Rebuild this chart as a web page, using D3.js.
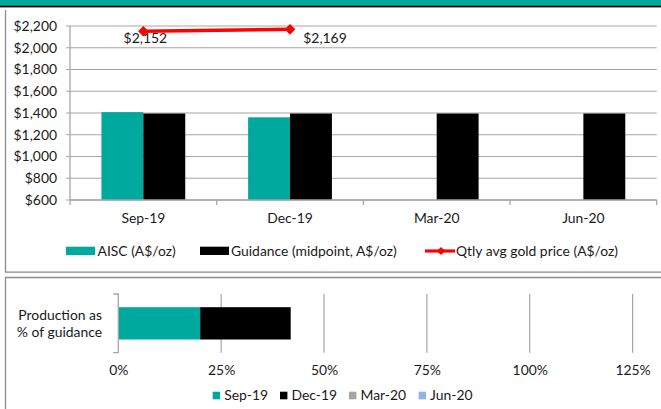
<!DOCTYPE html>
<html>
<head>
<meta charset="utf-8">
<script src="https://cdn.jsdelivr.net/npm/d3@7"></script>
<style>
  html, body { margin: 0; padding: 0; background: #fff; }
  svg { display: block; font-family: Lato, "Open Sans", sans-serif; }
  text { fill: #1a1a1a; }
</style>
</head>
<body>
<div id="chart"></div>
<script>
const W = 661;
const H = 409;
const FS = 13.9;

// Quarterly categories
const QUARTERS = ["Sep-19", "Dec-19", "Mar-20", "Jun-20"];

// Top chart: cost per ounce (A$/oz)
const AISC = [1408, 1360, null, null];
const GUIDANCE = [1395, 1395, 1395, 1395];
const GOLD_PRICE = [2152, 2169, null, null];
const Y_TICKS = [600, 800, 1000, 1200, 1400, 1600, 1800, 2000, 2200];

// Bottom chart: production as share of guidance, stacked by quarter
const PRODUCTION_SHARE = [0.199, 0.22, 0, 0];
const PCT_TICKS = [0, 0.25, 0.5, 0.75, 1, 1.25];

const TEAL = "#00a99d";
const QUARTER_COLORS = [TEAL, "#000000", "#a5a5a5", "#8eb4e3"];
const GRID = "#a6a6a6";
const BORDER = "#8c8c8c";

// manual nudges for the two price labels (as placed in the original)
const PRICE_LABEL_DX = [2, 35];

const svg = d3.select("#chart").append("svg")
  .attr("width", W)
  .attr("height", H)
  .attr("viewBox", `0 0 ${W} ${H}`);

// header band
svg.append("rect").attr("x", 0).attr("y", 0).attr("width", W).attr("height", 6).attr("fill", TEAL);
svg.append("rect").attr("x", 0).attr("y", 5.7).attr("width", W).attr("height", 1.7).attr("fill", "#000");

// panel frames (right edge is cropped in the original)
svg.append("path")
  .attr("d", `M5.5,10 V272.2 H${W}`)
  .attr("fill", "none").attr("stroke", BORDER).attr("stroke-width", 1.3);
svg.append("path")
  .attr("d", `M${W},277.5 H5.5 V${H}`)
  .attr("fill", "none").attr("stroke", BORDER).attr("stroke-width", 1.3);

// ---------- top chart ----------
const topBox = { left: 70, right: 656.7, top: 26, bottom: 200 };

const x = d3.scaleBand().domain(QUARTERS).range([topBox.left, topBox.right]);
const xInner = d3.scaleBand().domain(["aisc", "guidance"])
  .range([0, x.bandwidth()]).paddingOuter(0.75).paddingInner(0);
const y = d3.scaleLinear().domain([600, 2200]).range([topBox.bottom, topBox.top]);

const gTop = svg.append("g");

// gridlines
gTop.selectAll("line.grid")
  .data(Y_TICKS)
  .join("line")
  .attr("class", "grid")
  .attr("x1", topBox.left - 4).attr("x2", topBox.right)
  .attr("y1", (d) => y(d)).attr("y2", (d) => y(d))
  .attr("stroke", GRID).attr("stroke-width", 1.2);

// y labels
gTop.append("g")
  .attr("transform", `translate(${topBox.left},0)`)
  .call(d3.axisLeft(y).tickValues(Y_TICKS).tickSize(0).tickPadding(13)
    .tickFormat((d) => "$" + d3.format(",")(d)))
  .call((g) => g.select(".domain").remove())
  .call((g) => g.selectAll("text").attr("font-size", FS).attr("font-family", "Lato").attr("fill", "#1a1a1a"));

// bars
const barRows = QUARTERS.map((q, i) => [
  { q, key: "aisc", v: AISC[i], color: TEAL },
  { q, key: "guidance", v: GUIDANCE[i], color: "#000" },
]).flat().filter((d) => d.v != null);

gTop.selectAll("rect.bar")
  .data(barRows)
  .join("rect")
  .attr("class", "bar")
  .attr("x", (d) => x(d.q) + xInner(d.key))
  .attr("width", xInner.bandwidth())
  .attr("y", (d) => y(d.v))
  .attr("height", (d) => y(600) - y(d.v))
  .attr("fill", (d) => d.color);

// x axis line + boundary ticks
const bounds = QUARTERS.map((q) => x(q)).concat([topBox.right]);
gTop.append("line")
  .attr("x1", topBox.left).attr("x2", topBox.right)
  .attr("y1", topBox.bottom).attr("y2", topBox.bottom)
  .attr("stroke", GRID).attr("stroke-width", 1.3);
gTop.append("line")
  .attr("x1", topBox.left).attr("x2", topBox.left)
  .attr("y1", topBox.top).attr("y2", topBox.bottom)
  .attr("stroke", GRID).attr("stroke-width", 1.3);
gTop.selectAll("line.xtick")
  .data(bounds)
  .join("line")
  .attr("class", "xtick")
  .attr("x1", (d) => d).attr("x2", (d) => d)
  .attr("y1", topBox.bottom).attr("y2", topBox.bottom + 5)
  .attr("stroke", GRID).attr("stroke-width", 1.3);

gTop.append("g")
  .attr("transform", `translate(0,${topBox.bottom})`)
  .call(d3.axisBottom(x).tickSize(0).tickPadding(13))
  .call((g) => g.select(".domain").remove())
  .call((g) => g.selectAll("text").attr("font-size", FS).attr("font-family", "Lato").attr("fill", "#1a1a1a"));

// gold price line
const pricePts = QUARTERS.map((q, i) => ({ q, v: GOLD_PRICE[i], i })).filter((d) => d.v != null);
const cx = (d) => x(d.q) + x.bandwidth() / 2;

gTop.append("path")
  .datum(pricePts)
  .attr("d", d3.line().x(cx).y((d) => y(d.v)))
  .attr("fill", "none").attr("stroke", "#ff0000").attr("stroke-width", 3.5);

const diamond = d3.symbol(d3.symbolSquare).size(56);
gTop.selectAll("path.marker")
  .data(pricePts)
  .join("path")
  .attr("class", "marker")
  .attr("d", diamond)
  .attr("transform", (d) => `translate(${cx(d)},${y(d.v)}) rotate(45)`)
  .attr("fill", "#ff0000");

gTop.selectAll("text.plabel")
  .data(pricePts)
  .join("text")
  .attr("class", "plabel")
  .attr("x", (d) => cx(d) + PRICE_LABEL_DX[d.i])
  .attr("y", 43)
  .attr("text-anchor", "middle")
  .attr("font-size", FS)
  .text((d) => "$" + d3.format(",")(d.v));

// top legend
const legTop = svg.append("g").attr("transform", "translate(0,251)");
legTop.append("rect").attr("x", 66).attr("y", -4.3).attr("width", 29).attr("height", 8.3).attr("fill", TEAL);
legTop.append("text").attr("x", 97.5).attr("dy", "0.35em").attr("font-size", FS).text("AISC (A$/oz)");
legTop.append("rect").attr("x", 200).attr("y", -4.3).attr("width", 29).attr("height", 8.3).attr("fill", "#000");
legTop.append("text").attr("x", 231).attr("dy", "0.35em").attr("font-size", FS).text("Guidance (midpoint, A$/oz)");
legTop.append("line").attr("x1", 425).attr("x2", 455).attr("y1", 0).attr("y2", 0)
  .attr("stroke", "#ff0000").attr("stroke-width", 3.2);
legTop.append("path").attr("d", d3.symbol(d3.symbolSquare).size(34))
  .attr("transform", "translate(441,0) rotate(45)").attr("fill", "#ff0000");
legTop.append("text").attr("x", 456).attr("dy", "0.35em").attr("font-size", FS).text("Qtly avg gold price (A$/oz)");

// ---------- bottom chart ----------
const botBox = { left: 118.3, right: 632.6, top: 294, bottom: 352.7 };
const xp = d3.scaleLinear().domain([0, 1.25]).range([botBox.left, botBox.right]);
const yb = d3.scaleBand().domain(["production"]).range([botBox.top, botBox.bottom]).padding(0.29);

const gBot = svg.append("g");

gBot.selectAll("line.vgrid")
  .data(PCT_TICKS.filter((d) => d > 0))
  .join("line")
  .attr("class", "vgrid")
  .attr("x1", (d) => xp(d)).attr("x2", (d) => xp(d))
  .attr("y1", botBox.top).attr("y2", botBox.bottom)
  .attr("stroke", GRID).attr("stroke-width", 1.2);

// stacked bar
let acc = 0;
const segs = QUARTERS.map((q, i) => {
  const s = { q, x0: acc, x1: acc + PRODUCTION_SHARE[i], color: QUARTER_COLORS[i] };
  acc += PRODUCTION_SHARE[i];
  return s;
}).filter((d) => d.x1 > d.x0);

gBot.selectAll("rect.seg")
  .data(segs)
  .join("rect")
  .attr("class", "seg")
  .attr("x", (d) => xp(d.x0))
  .attr("width", (d) => xp(d.x1) - xp(d.x0))
  .attr("y", yb("production"))
  .attr("height", yb.bandwidth())
  .attr("fill", (d) => d.color);

// category axis with end ticks
gBot.append("path")
  .attr("d", `M${botBox.left - 5},${botBox.top} H${botBox.left} V${botBox.bottom} H${botBox.left - 5}`)
  .attr("fill", "none").attr("stroke", GRID).attr("stroke-width", 1.3);

gBot.append("g")
  .attr("transform", `translate(0,${botBox.bottom})`)
  .call(d3.axisBottom(xp).tickValues(PCT_TICKS).tickSize(0).tickPadding(12).tickFormat(d3.format(".0%")))
  .call((g) => g.select(".domain").remove())
  .call((g) => g.selectAll("text").attr("font-size", FS).attr("font-family", "Lato").attr("fill", "#1a1a1a"));

const ylab = gBot.append("text").attr("text-anchor", "end").attr("font-size", FS);
ylab.append("tspan").attr("x", 102).attr("y", 315).attr("dy", "0.35em").text("Production as");
ylab.append("tspan").attr("x", 102).attr("y", 332).attr("dy", "0.35em").text("% of guidance");

// bottom legend
const legX = [212.7, 280, 349, 418.6];
const legBot = svg.append("g").attr("transform", "translate(0,395.5)");
const items = legBot.selectAll("g")
  .data(QUARTERS)
  .join("g")
  .attr("transform", (d, i) => `translate(${legX[i]},0)`);
items.append("rect").attr("x", 0).attr("y", -3.8).attr("width", 7.4).attr("height", 7.6)
  .attr("fill", (d, i) => QUARTER_COLORS[i]);
items.append("text").attr("x", 11.5).attr("dy", "0.35em").attr("font-size", FS).text((d) => d);
</script>
</body>
</html>
